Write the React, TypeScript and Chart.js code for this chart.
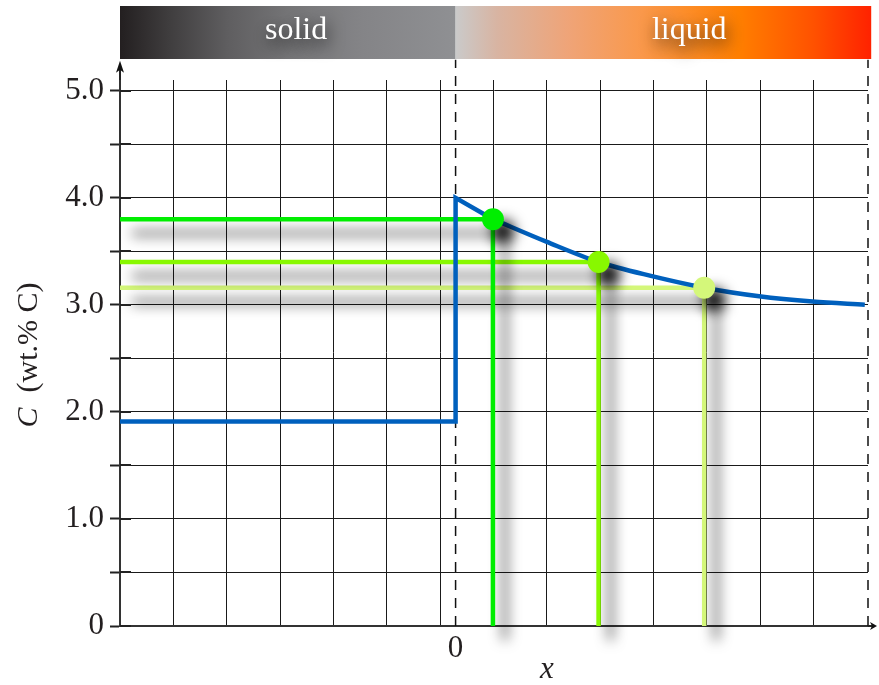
import React, { useEffect, useRef } from 'react';
import { Chart, registerables } from 'chart.js';

Chart.register(...registerables);

// ---------- data ----------
const X_MIN = -6.29;
const X_MAX = 7.73;
const Y_MIN = 0;
const Y_MAX = 5.1;
const Y_TOP = 5.29; // top of dashed guides / axis arrow

const xGridValues = [-6.29, -5.29, -4.29, -3.29, -2.29, -1.29, -0.29, 0.71, 1.71, 2.71, 3.71, 4.71, 5.71, 6.71];
const xLabelValues = [0];
const xLabelTexts = ['0'];

const yTickValues = [0, 0.5, 1, 1.5, 2, 2.5, 3, 3.5, 4, 4.5, 5];
const yTickLabels = ['0', '', '1.0', '', '2.0', '', '3.0', '', '4.0', '', '5.0'];

const solidLevel = 1.91;
const interfaceX = 0;
const interfacePeak = 4.0;

const curveX = [0.7, 1.7, 2.68, 3.66, 4.66, 5.69, 6.69, 7.67];
const curveY = [3.8, 3.59, 3.4, 3.27, 3.16, 3.08, 3.03, 3.0];

const markerX = [0.7, 2.68, 4.66];
const markerY = [3.8, 3.4, 3.16];
const markerColors = ['#00ee00', '#88f800', '#d4f77a'];

const guideX = [0, 7.73];

const bandLabels = ['solid', 'liquid'];
const bandLabelX = [-2.99, 4.38];
const BAND_END = 7.79;

const BLUE = '#0060bd';
const SERIF = '"Liberation Serif", "Times New Roman", serif';

// ---------- plugins ----------
const shadowPlugin = {
  id: 'dsShadow',
  beforeDatasetDraw(chart: any, args: any) {
    const ds = chart.data.datasets[args.index];
    if (!ds.shadow) return;
    const ctx = chart.ctx;
    ctx.save();
    ctx.shadowColor = ds.shadow.color;
    ctx.shadowBlur = ds.shadow.blur;
    ctx.shadowOffsetX = ds.shadow.dx;
    ctx.shadowOffsetY = ds.shadow.dy;
  },
  afterDatasetDraw(chart: any, args: any) {
    const ds = chart.data.datasets[args.index];
    if (!ds.shadow) return;
    chart.ctx.restore();
  },
};

const decorPlugin = {
  id: 'decor',
  afterDraw(chart: any) {
    const ctx = chart.ctx;
    const xs = chart.scales.x;
    const ys = chart.scales.y;
    const area = chart.chartArea;

    // --- top band ---
    const bTop = 6;
    const bBottom = 59;
    const x0 = area.left;
    const xm = xs.getPixelForValue(interfaceX);
    const x1 = xs.getPixelForValue(BAND_END);
    ctx.save();
    const g1 = ctx.createLinearGradient(x0, 0, xm, 0);
    g1.addColorStop(0, '#231f20');
    g1.addColorStop(0.15, '#403e3f');
    g1.addColorStop(0.32, '#5f5e60');
    g1.addColorStop(0.5, '#747476');
    g1.addColorStop(0.72, '#848487');
    g1.addColorStop(1, '#8f9093');
    ctx.fillStyle = g1;
    ctx.fillRect(x0, bTop, xm - x0, bBottom - bTop);
    const g2 = ctx.createLinearGradient(xm, 0, x1, 0);
    g2.addColorStop(0, '#cacaca');
    g2.addColorStop(0.1, '#d8b4a2');
    g2.addColorStop(0.27, '#efa478');
    g2.addColorStop(0.45, '#fa984a');
    g2.addColorStop(0.68, '#ff7f00');
    g2.addColorStop(0.86, '#ff5200');
    g2.addColorStop(1, '#ff2200');
    ctx.fillStyle = g2;
    ctx.fillRect(xm, bTop, x1 - xm, bBottom - bTop);

    ctx.font = `32px ${SERIF}`;
    ctx.textAlign = 'center';
    ctx.textBaseline = 'alphabetic';
    ctx.fillStyle = '#ffffff';
    ctx.shadowColor = 'rgba(0,0,0,0.85)';
    ctx.shadowBlur = 16;
    ctx.shadowOffsetX = 2;
    ctx.shadowOffsetY = 6;
    bandLabels.forEach((t, i) => {
      ctx.fillText(t, xs.getPixelForValue(bandLabelX[i]), 39);
    });
    ctx.restore();

    // --- axis extensions & arrows ---
    ctx.save();
    ctx.strokeStyle = '#222';
    ctx.fillStyle = '#111';
    ctx.lineWidth = 2;
    const ax = area.left;
    const tipY = ys.getPixelForValue(Y_TOP) + 1;
    ctx.beginPath();
    ctx.moveTo(ax, area.top);
    ctx.lineTo(ax, tipY + 8);
    ctx.stroke();
    ctx.beginPath();
    ctx.moveTo(ax, tipY);
    ctx.lineTo(ax - 4, tipY + 12);
    ctx.lineTo(ax, tipY + 9);
    ctx.lineTo(ax + 4, tipY + 12);
    ctx.closePath();
    ctx.fill();

    const ay = area.bottom;
    const tipX = area.right + 9;
    ctx.beginPath();
    ctx.moveTo(area.right, ay);
    ctx.lineTo(tipX - 4, ay);
    ctx.stroke();
    ctx.beginPath();
    ctx.moveTo(tipX, ay);
    ctx.lineTo(tipX - 7, ay - 4);
    ctx.lineTo(tipX - 5, ay);
    ctx.lineTo(tipX - 7, ay + 4);
    ctx.closePath();
    ctx.fill();

    // inner tick marks on y axis
    ctx.lineWidth = 2;
    ctx.strokeStyle = '#222';
    yTickValues.forEach((v) => {
      const py = Math.round(ys.getPixelForValue(v));
      ctx.beginPath();
      ctx.moveTo(ax, py);
      ctx.lineTo(ax + 11, py);
      ctx.stroke();
    });
    ctx.restore();

    // --- axis titles ---
    ctx.save();
    ctx.fillStyle = '#231f20';
    ctx.textBaseline = 'alphabetic';
    ctx.font = `italic 31px ${SERIF}`;
    ctx.textAlign = 'center';
    ctx.fillText('x', xs.getPixelForValue(1.71), 678);

    const partA = 'C';
    const partB = '  (wt.% C)';
    const fA = `italic 30px ${SERIF}`;
    const fB = `30px ${SERIF}`;
    ctx.font = fA;
    const wA = ctx.measureText(partA).width;
    ctx.font = fB;
    const wB = ctx.measureText(partB).width;
    const total = wA + wB;
    const cy = (area.top + area.bottom) / 2 + 2;
    ctx.translate(37, cy);
    ctx.rotate(-Math.PI / 2);
    ctx.textAlign = 'left';
    ctx.font = fA;
    ctx.fillText(partA, -total / 2, 0);
    ctx.font = fB;
    ctx.fillText(partB, -total / 2 + wA, 0);
    ctx.restore();
  },
};

// ---------- component ----------
export default function App() {
  const canvasRef = useRef<HTMLCanvasElement | null>(null);

  useEffect(() => {
    const canvas = canvasRef.current;
    if (!canvas) return;

    const shadowLine = { color: 'rgba(0,0,0,0.75)', blur: 13, dx: 12, dy: 14 };
    const shadowDot = { color: 'rgba(0,0,0,1)', blur: 14, dx: 10, dy: 12 };

    const datasets: any[] = [];

    guideX.forEach((gx) => {
      datasets.push({
        data: [{ x: gx, y: Y_MIN }, { x: gx, y: Y_TOP }],
        borderColor: '#111',
        borderWidth: 1.5,
        borderDash: [10, 8],
        pointRadius: 0,
        clip: false,
        order: 10,
      });
    });

    markerX.forEach((mx, i) => {
      datasets.push({
        data: [
          { x: X_MIN, y: markerY[i] },
          { x: mx, y: markerY[i] },
          { x: mx, y: Y_MIN },
        ],
        borderColor: markerColors[i],
        borderWidth: 4.5,
        pointRadius: 0,
        borderJoinStyle: 'miter',
        clip: false,
        order: 5,
        shadow: shadowLine,
      });
    });

    datasets.push({
      data: [
        { x: X_MIN, y: solidLevel },
        { x: interfaceX, y: solidLevel },
        { x: interfaceX, y: interfacePeak },
        { x: curveX[0], y: curveY[0] },
      ],
      borderColor: BLUE,
      borderWidth: 4.5,
      pointRadius: 0,
      borderJoinStyle: 'miter',
      tension: 0,
      order: 3,
    });

    datasets.push({
      data: curveX.map((x, i) => ({ x, y: curveY[i] })),
      borderColor: BLUE,
      borderWidth: 4.5,
      pointRadius: 0,
      cubicInterpolationMode: 'monotone',
      order: 3,
    });

    markerX.forEach((mx, i) => {
      datasets.push({
        data: [{ x: mx, y: markerY[i] }],
        showLine: false,
        pointRadius: 11,
        pointBorderWidth: 0,
        pointBackgroundColor: markerColors[i],
        pointBorderColor: markerColors[i],
        clip: false,
        order: 1,
        shadow: shadowDot,
      });
    });

    const xTicks = [...xGridValues, ...xLabelValues].sort((a, b) => a - b);

    const chart = new Chart(canvas, {
      type: 'line',
      data: { datasets },
      plugins: [shadowPlugin, decorPlugin],
      options: {
        animation: false,
        responsive: false,
        maintainAspectRatio: false,
        devicePixelRatio: 1,
        layout: { padding: { top: 80, right: 10, left: 0, bottom: 0 } },
        plugins: { legend: { display: false }, tooltip: { enabled: false } },
        scales: {
          x: {
            type: 'linear',
            min: X_MIN,
            max: X_MAX,
            afterBuildTicks: (scale: any) => {
              scale.ticks = xTicks.map((v) => ({ value: v }));
            },
            afterFit: (scale: any) => {
              scale.height = 59;
            },
            grid: {
              color: (ctx: any) =>
                ctx.tick && xLabelValues.includes(ctx.tick.value) ? 'rgba(0,0,0,0)' : '#1a1a1a',
              lineWidth: 1,
              drawTicks: false,
            },
            border: { display: true, color: '#333', width: 2 },
            ticks: {
              autoSkip: false,
              maxRotation: 0,
              padding: 4,
              color: '#231f20',
              font: { family: SERIF, size: 31 },
              callback: (v: any) => {
                const k = xLabelValues.indexOf(Number(v));
                return k >= 0 ? xLabelTexts[k] : '';
              },
            },
          },
          y: {
            type: 'linear',
            min: Y_MIN,
            max: Y_MAX,
            afterBuildTicks: (scale: any) => {
              scale.ticks = yTickValues.map((v) => ({ value: v }));
            },
            afterFit: (scale: any) => {
              scale.width = 120;
            },
            grid: {
              color: '#1a1a1a',
              lineWidth: 1,
              drawTicks: true,
              tickLength: 10,
              tickColor: '#222',
              tickWidth: 2,
            },
            border: { display: true, color: '#333', width: 2 },
            ticks: {
              autoSkip: false,
              padding: 6,
              color: '#231f20',
              font: { family: SERIF, size: 31 },
              callback: (v: any) => {
                const k = yTickValues.indexOf(Number(v));
                return k >= 0 ? yTickLabels[k] : '';
              },
            },
          },
        },
      } as any,
    });

    return () => chart.destroy();
  }, []);

  return (
    <div style={{ position: 'absolute', left: 0, top: 0, width: 879, height: 685, background: '#fff' }}>
      <canvas ref={canvasRef} width={879} height={685} style={{ display: 'block' }} />
    </div>
  );
}
